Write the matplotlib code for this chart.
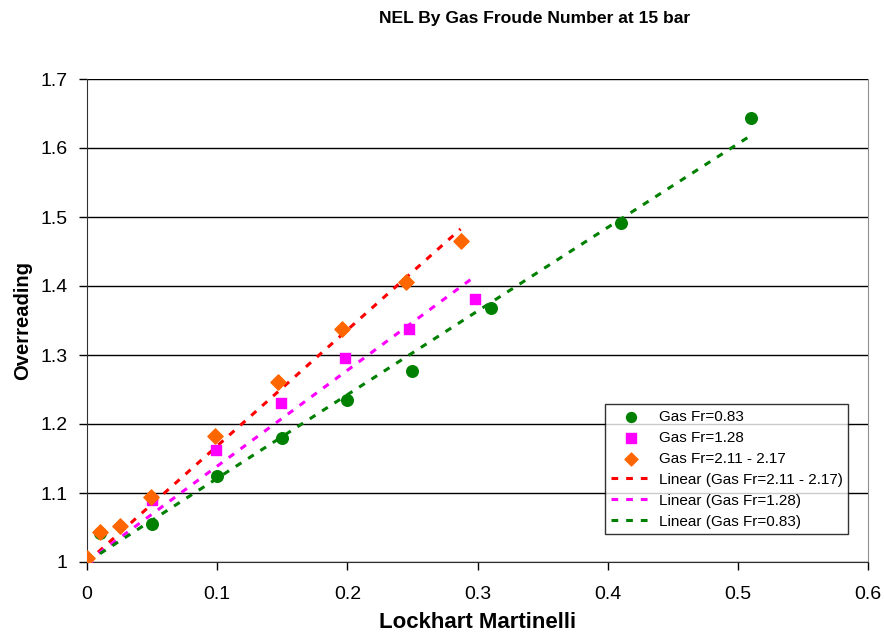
import matplotlib.pyplot as plt
import numpy as np

plt.rcParams['font.family'] = ['Liberation Sans', 'DejaVu Sans']

# Lockhart Martinelli parameter vs overreading, three gas Froude number sets
x_083 = [0.01, 0.05, 0.10, 0.15, 0.20, 0.25, 0.31, 0.41, 0.51]
y_083 = [1.042, 1.055, 1.125, 1.180, 1.235, 1.277, 1.368, 1.491, 1.643]

x_128 = [0.0, 0.05, 0.099, 0.149, 0.198, 0.247, 0.298]
y_128 = [1.0, 1.090, 1.162, 1.230, 1.296, 1.338, 1.381]

x_211 = [0.0, 0.01, 0.025, 0.049, 0.098, 0.147, 0.196, 0.245, 0.287]
y_211 = [1.006, 1.043, 1.052, 1.094, 1.183, 1.261, 1.338, 1.406, 1.465]

green = '#008000'
magenta = '#FF00FF'
orange = '#FF6600'
red = '#FF0000'

fig = plt.figure(figsize=(8.84, 6.4), dpi=100)
ax = fig.add_axes([87/884, 1-562/640, (868-87)/884, (562-79)/640])

ax.scatter(x_083, y_083, s=70, marker='o', color=green, label='Gas Fr=0.83', zorder=3)
ax.scatter(x_128, y_128, s=62, marker='s', color=magenta, label='Gas Fr=1.28', zorder=3)
ax.scatter(x_211, y_211, s=60, marker='D', color=orange, label='Gas Fr=2.11 - 2.17', zorder=3)

# linear trendlines with intercept fixed at 1, drawn over each series' range
def trend(xs, ys, col, lab):
    xs = np.array(xs)
    ys = np.array(ys)
    k = np.sum(xs*(ys - 1)) / np.sum(xs**2)
    xx = np.array([xs.min(), xs.max()])
    ax.plot(xx, 1 + k*xx, color=col, lw=2.2, dashes=(2.2, 2.6), label=lab, zorder=2)

trend(x_211, y_211, red, 'Linear (Gas Fr=2.11 - 2.17)')
trend(x_128, y_128, magenta, 'Linear (Gas Fr=1.28)')
trend(x_083, y_083, green, 'Linear (Gas Fr=0.83)')

ax.set_xlim(0, 0.6)
ax.set_ylim(1, 1.7)
ax.set_xticks(np.arange(0, 0.61, 0.1))
ax.set_xticklabels(['0', '0.1', '0.2', '0.3', '0.4', '0.5', '0.6'])
ax.set_yticks(np.arange(1, 1.71, 0.1))
ax.set_yticklabels(['1', '1.1', '1.2', '1.3', '1.4', '1.5', '1.6', '1.7'])
ax.tick_params(labelsize=14, direction='out', length=6, width=1, colors='black')
ax.tick_params(axis='x', pad=11)
ax.tick_params(axis='y', pad=8)

ax.grid(axis='y', color='black', lw=1)
ax.set_axisbelow(True)
ax.spines['top'].set_visible(False)
ax.spines['right'].set_color('#909090')
ax.spines['left'].set_color('#303030')
ax.spines['bottom'].set_color('#303030')

ax.set_xlabel('Lockhart Martinelli', fontsize=16, fontweight='bold', labelpad=7)
ax.set_ylabel('Overreading', fontsize=14.5, fontweight='bold', labelpad=6)
fig.text(535/884, 1-18/640, 'NEL By Gas Froude Number at 15 bar',
         ha='center', va='center', fontsize=12.6, fontweight='bold')

leg = ax.legend(loc='lower right', bbox_to_anchor=((848-87)/781, (562-534)/483),
                fontsize=11, frameon=True, fancybox=False, edgecolor='black',
                borderpad=0.35, labelspacing=0.46, handlelength=2.7,
                handletextpad=0.45, markerscale=0.85, borderaxespad=0)
leg.get_frame().set_linewidth(1)

fig.savefig('out.png', dpi=100)
